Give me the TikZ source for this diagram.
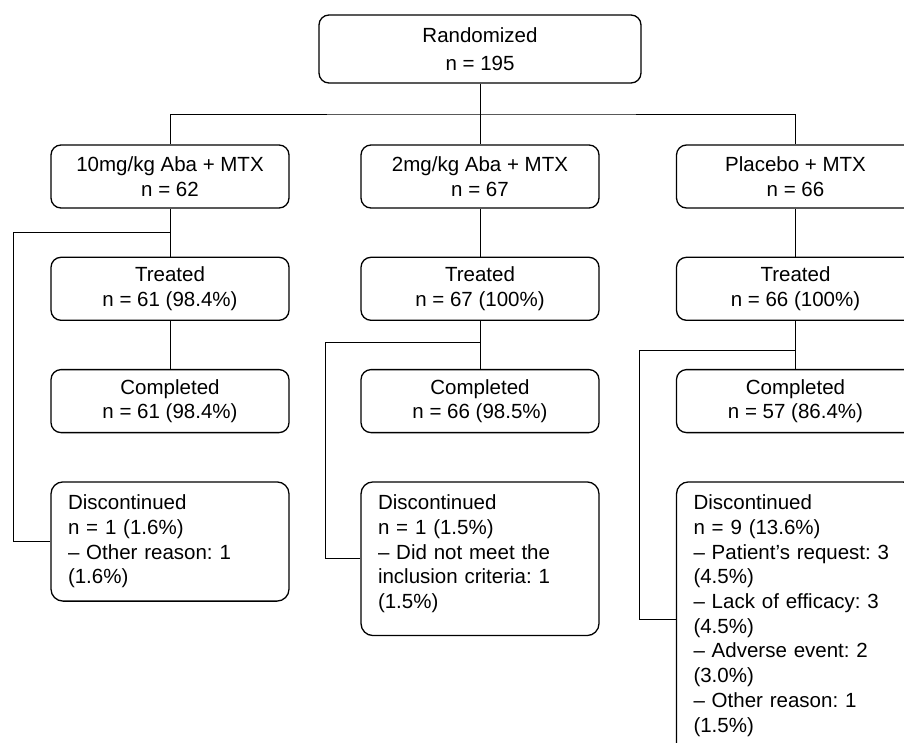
\documentclass[tikz,border=0pt]{standalone}
\usepackage{fontspec}
\setmainfont{Liberation Sans}
\usetikzlibrary{positioning}
\tikzset{
  box/.style    ={draw,rounded corners=10pt,line width=1.3pt,align=center,minimum width=238pt,minimum height=63pt,inner sep=0pt,font=\fontsize{20.5}{24.7}\selectfont},
  dropbox/.style={draw,rounded corners=12pt,line width=1.3pt,align=left,text width=204pt,inner xsep=17pt,inner ysep=13pt,font=\fontsize{20.5}{24.7}\selectfont},
  flow/.style   ={line width=0.9pt},
}
\frenchspacing
\begin{document}
\begin{tikzpicture}[x=1pt,y=-1pt]
  \useasboundingbox (0,0) rectangle (904,742);
  \node[box,minimum width=322pt,minimum height=68pt,font=\fontsize{20.5}{28}\selectfont] (rand) at (480,49){Randomized\\n = 195};
  \foreach \x/\name/\arm/\tr/\co in {170/hi/{10mg/kg Aba + MTX\\n = 62}/{n = 61 (98.4\%)}/{n = 61 (98.4\%)},
                                     480/lo/{2mg/kg Aba + MTX\\n = 67}/{n = 67 (100\%)}/{n = 66 (98.5\%)},
                                     795.5/pl/{Placebo + MTX\\n = 66}/{n = 66 (100\%)}/{n = 57 (86.4\%)}}{
     \node[box] (\name1) at (\x,176.5){\arm};
     \node[box,below=48pt of \name1] (\name2){Treated\\\tr};
     \node[box,below=48pt of \name2] (\name3){Completed\\\co};
     \draw[flow] (\name1)--(\name2);
     \draw[flow] (\name2)--(\name3);
  }
  \node[dropbox,below=48pt of hi3] (hi4){Discontinued\\n = 1 (1.6\%)\\-- Other reason: 1\\(1.6\%)};
  \node[dropbox,below=48pt of lo3] (lo4){Discontinued\\n = 1 (1.5\%)\\-- Did not meet the\\inclusion criteria: 1\\(1.5\%)\rule[-14pt]{0pt}{14pt}};
  \node[dropbox,below=48pt of pl3] (pl4){Discontinued\\n = 9 (13.6\%)\\-- Patient’s request: 3\\(4.5\%)\\-- Lack of efficacy: 3\\(4.5\%)\\-- Adverse event: 2\\(3.0\%)\\-- Other reason: 1\\(1.5\%)\rule[-12pt]{0pt}{12pt}};
  % randomization split
  \coordinate (hub) at (480,114);
  \draw[flow] (rand)--(lo1);
  \draw[flow] (hi1) |- (hub) -| (pl1);
  % branches to discontinued
  \coordinate (hik) at (170,232);   \coordinate (hil) at (13,232);
  \coordinate (lok) at (480,342);   \coordinate (lol) at (325,342);
  \coordinate (plk) at (795.5,350); \coordinate (pll) at (639,350);
  \draw[flow] (hik)--(hil) |- (hi4.west);
  \draw[flow] (lok)--(lol) |- (lo4.west);
  \draw[flow] (plk)--(pll) |- (pl4.west);
\end{tikzpicture}
\end{document}
